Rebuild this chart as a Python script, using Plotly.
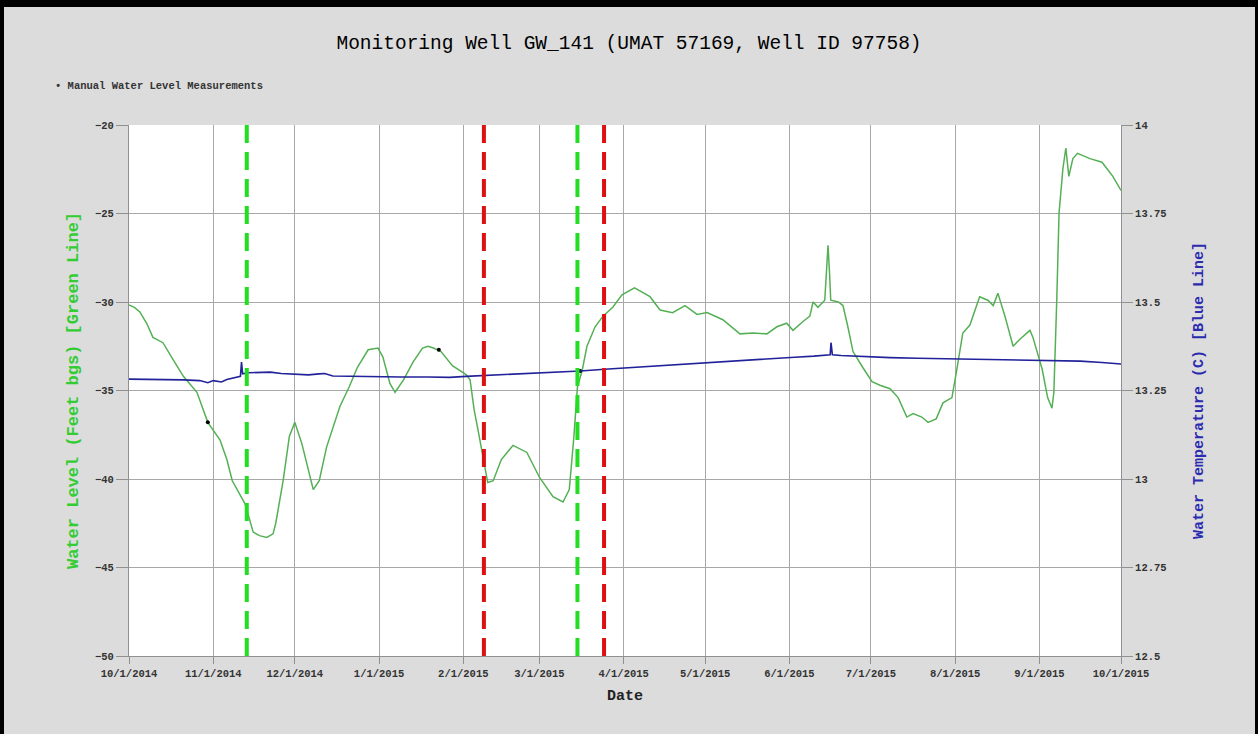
import pandas as pd
import plotly.graph_objects as go

# ---------------- data ----------------
START = "2014-10-01"
END = "2015-10-01"

# water level (ft bgs), days after 10/1/2014
level_days = [0, 2, 4, 6.5, 8.8, 12.5, 16, 20, 25, 29, 33.5, 36, 38, 42.7, 45.7, 48, 50.7, 53, 54,
              56.7, 59, 61, 63.6, 66, 67.8, 70, 72.7, 77.6, 81, 84, 88, 91.6, 93.4, 96, 97.9, 101,
              104.5, 108, 110, 112, 114.8, 119, 124, 125.5, 127, 128.5, 130, 132, 134, 137, 141.3,
              146.4, 151, 156, 159.7, 162, 163.7, 165, 166.7, 168.5, 171.5, 174.4, 178, 181.4, 186,
              191.7, 195.4, 200, 204.6, 209, 212.7, 218.5, 224.8, 229.6, 234.7, 238.4, 242, 244.3,
              248, 250.5, 251.7, 253.5, 256, 256.8, 257.2, 257.8, 258.2, 261, 262.7, 264.5, 266.4,
              270, 273.4, 276.3, 280, 283, 286.2, 288.5, 291.7, 294, 297, 299.5, 302.8, 304.6, 306.8,
              309.4, 313, 316, 318, 319.7, 322.3, 325.3, 327.8, 331.5, 332.6, 336, 338, 339.6, 340.3,
              341.4, 342.2, 343.6, 344.7, 345.8, 347.3, 349, 353.6, 358, 362, 365]
level_ft = [-30.17, -30.3, -30.56, -31.2, -32.0, -32.3, -33.2, -34.2, -35.1, -36.8, -37.8, -38.9,
            -40.1, -41.4, -43.0, -43.2, -43.3, -43.1, -42.5, -40.1, -37.6, -36.8, -38.0, -39.5,
            -40.6, -40.1, -38.2, -35.9, -34.8, -33.7, -32.7, -32.6, -33.1, -34.6, -35.1, -34.4,
            -33.4, -32.6, -32.5, -32.6, -32.8, -33.6, -34.1, -34.4, -36.1, -37.3, -38.6, -40.2,
            -40.1, -38.9, -38.1, -38.5, -39.9, -41.0, -41.3, -40.6, -37.6, -34.8, -33.9, -32.5,
            -31.4, -30.8, -30.3, -29.6, -29.2, -29.7, -30.45, -30.6, -30.2, -30.7, -30.6, -31.0,
            -31.8, -31.75, -31.8, -31.4, -31.2, -31.6, -31.1, -30.8, -30.0, -30.3, -29.9, -28.2,
            -26.8, -28.5, -29.9, -30.0, -30.2, -31.4, -32.8, -33.7, -34.5, -34.7, -34.9, -35.4,
            -36.5, -36.3, -36.5, -36.8, -36.6, -35.7, -35.4, -33.8, -31.75, -31.3, -29.7, -29.9,
            -30.2, -29.5, -30.8, -32.5, -32.1, -31.6, -32.0, -33.8, -35.4, -36.0, -35.1, -29.7,
            -25.0, -22.5, -21.3, -22.9, -21.9, -21.6, -21.9, -22.1, -22.9, -23.7]

# water temperature (C), days after 10/1/2014
temp_days = [0, 10, 20, 26, 28, 29, 31, 32, 34, 36, 38, 39.5, 41, 41.4, 41.8, 44, 48, 52, 56, 60,
             66, 70, 72, 75, 80, 90, 100, 110, 118, 124, 130, 135, 142, 150, 158, 166, 175, 185,
             195, 205, 215, 225, 235, 245, 252, 256, 258, 258.3, 258.8, 262, 270, 280, 290, 300,
             310, 320, 330, 340, 350, 358, 365]
temp_c = [13.282, 13.282, 13.280, 13.278, 13.274, 13.272, 13.278, 13.276, 13.274, 13.281, 13.284,
          13.286, 13.290, 13.330, 13.297, 13.300, 13.301, 13.302, 13.298, 13.296, 13.294, 13.297,
          13.298, 13.291, 13.290, 13.288, 13.288, 13.288, 13.287, 13.290, 13.292, 13.295, 13.297,
          13.300, 13.302, 13.305, 13.310, 13.315, 13.320, 13.326, 13.331, 13.336, 13.340, 13.344,
          13.347, 13.350, 13.351, 13.385, 13.351, 13.349, 13.346, 13.343, 13.341, 13.340, 13.339,
          13.338, 13.337, 13.336, 13.333, 13.329, 13.325]

# manual water level measurements
manual_dates = ["2014-10-30", "2015-01-23", "2015-03-16"]
manual_ft = [-36.8, -32.7, -33.9]

# event markers (dashed vertical lines)
green_event_dates = ["2014-11-13 08:00", "2015-03-15 00:00"]
red_event_dates = ["2015-02-08 14:00", "2015-03-24 19:00"]

left_ticks = [-50, -45, -40, -35, -30, -25, -20]
right_ticks = [12.5, 12.75, 13, 13.25, 13.5, 13.75, 14]

# ---------------- build ----------------
t0 = pd.Timestamp(START)
level_x = [t0 + pd.Timedelta(days=d) for d in level_days]
temp_x = [t0 + pd.Timedelta(days=d) for d in temp_days]

FONT = "Courier New, Liberation Mono, monospace"
W, H = 1258, 734
ML, MR, MT, MB = 129, 137, 125, 78
PW, PH = W - ML - MR, H - MT - MB


def px_x(px):
    return (px - ML) / PW


def px_y(py):
    return (H - MB - py) / PH


fig = go.Figure()
fig.add_trace(go.Scatter(x=level_x, y=level_ft, mode="lines",
                         line=dict(color="#55b055", width=1.5), name="Water Level",
                         showlegend=False))
fig.add_trace(go.Scatter(x=temp_x, y=temp_c, mode="lines", yaxis="y2",
                         line=dict(color="#22229a", width=1.6), name="Water Temperature",
                         showlegend=False))
fig.add_trace(go.Scatter(x=manual_dates, y=manual_ft, mode="markers",
                         marker=dict(color="black", size=4), name="Manual Water Level Measurements",
                         showlegend=False))

shapes = []
for d in green_event_dates:
    shapes.append(dict(type="line", xref="x", yref="y", x0=d, x1=d, y0=left_ticks[0], y1=left_ticks[-1],
                       line=dict(color="#22dd22", width=4, dash="18px,9px"), layer="above"))
for d in red_event_dates:
    shapes.append(dict(type="line", xref="x", yref="y", x0=d, x1=d, y0=left_ticks[0], y1=left_ticks[-1],
                       line=dict(color="#dd1111", width=4, dash="18px,9px"), layer="above"))
# black frame around the picture
for (a, b, c, d) in [(0, 4, 0, H), (0, W, 0, 7), (W - 3, W, 0, H)]:
    shapes.append(dict(type="rect", xref="paper", yref="paper",
                       x0=px_x(a), x1=px_x(b), y0=px_y(d), y1=px_y(c),
                       fillcolor="black", line=dict(width=0), layer="above"))

tickfont = dict(family=FONT, size=10.5, color="#333333", weight="bold")

fig.update_layout(
    width=W, height=H,
    margin=dict(l=ML, r=MR, t=MT, b=MB),
    paper_bgcolor="#dcdcdc", plot_bgcolor="white",
    title=dict(text="Monitoring Well GW_141 (UMAT 57169, Well ID 97758)",
               x=0.5, xanchor="center", y=1 - 42 / H, yanchor="middle",
               font=dict(family=FONT, size=19.5, color="black")),
    shapes=shapes,
    annotations=[dict(text="• Manual Water Level Measurements", xref="paper", yref="paper",
                      x=px_x(53), y=px_y(85.5), xanchor="left", yanchor="middle", showarrow=False,
                      font=dict(family=FONT, size=10.5, color="#333333", weight="bold"))],
    xaxis=dict(range=[START, END], type="date", dtick="M1", tick0=START,
               tickformat="%-m/%-d/%Y", showgrid=True, gridcolor="#a8a8a8", gridwidth=1,
               showline=True, linecolor="#909090", linewidth=1,
               ticks="outside", ticklen=7, tickcolor="#909090", tickfont=tickfont,
               title=dict(text="Date", font=dict(family=FONT, size=15, color="#222222", weight="bold"),
                          standoff=10),
               zeroline=False),
    yaxis=dict(range=[left_ticks[0], left_ticks[-1]], tickvals=left_ticks,
               showgrid=True, gridcolor="#a8a8a8", gridwidth=1,
               showline=True, linecolor="#909090", linewidth=1,
               ticks="outside", ticklen=12, tickcolor="#909090", tickfont=tickfont,
               title=dict(text="Water Level (Feet bgs) [Green Line]",
                          font=dict(family=FONT, size=17, color="#33cc33", weight="bold"),
                          standoff=12),
               zeroline=False),
    yaxis2=dict(range=[right_ticks[0], right_ticks[-1]], tickvals=right_ticks,
                overlaying="y", side="right", showgrid=False,
                showline=True, linecolor="#909090", linewidth=1,
                ticks="outside", ticklen=11, tickcolor="#909090", tickfont=tickfont,
                title=dict(text="Water Temperature (C) [Blue Line]",
                           font=dict(family=FONT, size=15, color="#2b2bb0", weight="bold"),
                           standoff=26),
                zeroline=False),
)

fig.write_html("out.html")
